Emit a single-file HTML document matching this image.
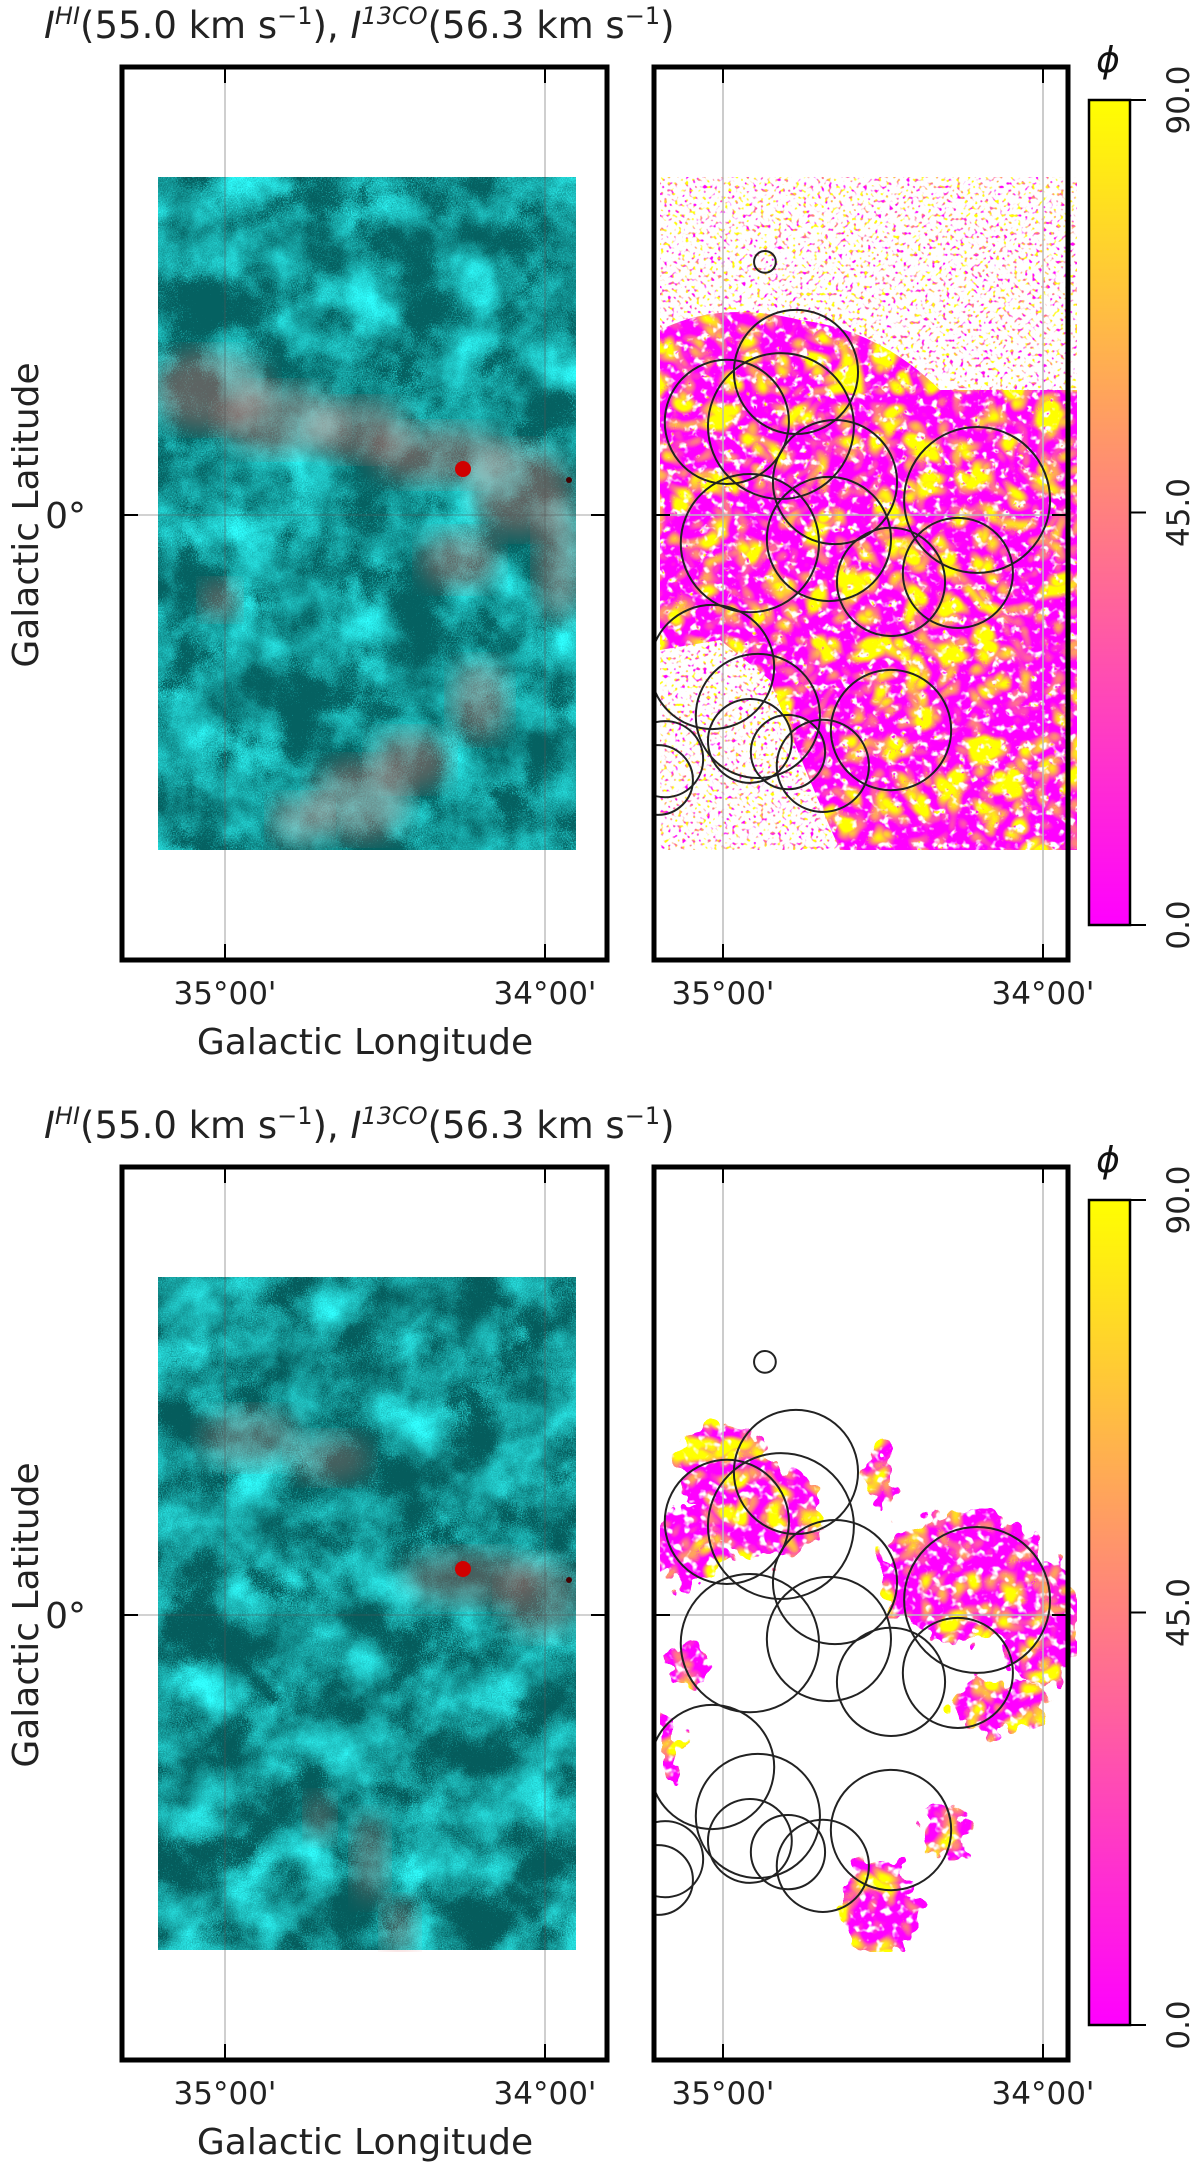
<!DOCTYPE html>
<html><head><meta charset="utf-8"><style>
html,body{margin:0;background:#fff;width:1200px;height:2178px;overflow:hidden;}
svg{display:block;font-family:"DejaVu Sans","Liberation Sans",sans-serif;overflow:hidden;}
</style></head><body>
<svg id="fig" width="1200" height="2178" viewBox="0 0 1200 2178" xmlns="http://www.w3.org/2000/svg">
<defs>
<filter id="cyanTex" x="0" y="0" width="1" height="1" color-interpolation-filters="sRGB">
<feTurbulence type="fractalNoise" baseFrequency="0.018" numOctaves="4" seed="3" result="n1"/>
<feTurbulence type="fractalNoise" baseFrequency="0.8" numOctaves="1" seed="9" result="n2"/>
<feComposite in="n1" in2="n2" operator="arithmetic" k2="1.0" k3="0.45" k4="-0.25" result="n"/>
<feColorMatrix in="n" type="matrix" values="0.25 0 0 0 0.02  0.95 0 0 0 0.38  0.95 0 0 0 0.38  0 0 0 0 1"/>
</filter>
<filter id="cyanTex2" x="0" y="0" width="1" height="1" color-interpolation-filters="sRGB">
<feTurbulence type="fractalNoise" baseFrequency="0.018" numOctaves="4" seed="11" result="n1"/>
<feTurbulence type="fractalNoise" baseFrequency="0.8" numOctaves="1" seed="4" result="n2"/>
<feComposite in="n1" in2="n2" operator="arithmetic" k2="1.0" k3="0.45" k4="-0.25" result="n"/>
<feColorMatrix in="n" type="matrix" values="0.25 0 0 0 0.02  0.95 0 0 0 0.36  0.95 0 0 0 0.36  0 0 0 0 1"/>
</filter>
<filter id="springDense" x="0" y="0" width="1" height="1" color-interpolation-filters="sRGB">
<feTurbulence type="turbulence" baseFrequency="0.03" numOctaves="2" seed="5" result="t"/>
<feTurbulence type="fractalNoise" baseFrequency="0.12" numOctaves="2" seed="7" result="a"/>
<feColorMatrix in="t" type="matrix" values="0 0 0 0 1  3 0 0 0 -0.5  -3 0 0 0 1.5  0 0 0 0 1" result="c"/>
<feColorMatrix in="a" type="matrix" values="0 0 0 0 0  0 0 0 0 0  0 0 0 0 0  6 0 0 0 -1.7" result="al"/>
<feComposite in="c" in2="al" operator="in"/>
</filter>
<filter id="springSparse" x="0" y="0" width="1" height="1" color-interpolation-filters="sRGB">
<feTurbulence type="fractalNoise" baseFrequency="0.28" numOctaves="1" seed="2" result="t"/>
<feColorMatrix in="t" type="matrix" values="0 0 0 0 1  4 0 0 0 -1.5  -4 0 0 0 2.5  0 7 0 0 -3.9"/>
</filter>
<filter id="blur8"><feGaussianBlur stdDeviation="12"/></filter>
<filter id="rough" x="-0.2" y="-0.2" width="1.4" height="1.4">
<feTurbulence type="fractalNoise" baseFrequency="0.06" numOctaves="2" seed="8" result="d"/>
<feDisplacementMap in="SourceGraphic" in2="d" scale="40" xChannelSelector="R" yChannelSelector="G"/>
</filter>
<linearGradient id="spring" x1="0" y1="1" x2="0" y2="0">
<stop offset="0" stop-color="#ff00ff"/><stop offset="1" stop-color="#ffff00"/>
</linearGradient>
<clipPath id="imgL0"><rect x="158" y="177" width="418" height="673"/></clipPath>
<clipPath id="imgL1"><rect x="158" y="1279" width="418" height="673"/></clipPath>
<clipPath id="denseTop"><path d="M660 330 Q720 300 800 320 Q880 330 940 390 L1077 390 L1077 850 L840 850 Q800 760 770 680 L720 640 L660 650 Z"/></clipPath>
<mask id="denseBot" maskUnits="userSpaceOnUse" x="650" y="1270" width="430" height="690">
<g fill="#fff" filter="url(#rough)">
<ellipse cx="725" cy="1470" rx="48" ry="48"/><ellipse cx="770" cy="1515" rx="55" ry="45"/><ellipse cx="690" cy="1545" rx="35" ry="40"/>
<ellipse cx="880" cy="1470" rx="14" ry="32"/><ellipse cx="965" cy="1575" rx="85" ry="65"/><ellipse cx="1040" cy="1620" rx="38" ry="65"/>
<ellipse cx="690" cy="1665" rx="20" ry="20"/><ellipse cx="1000" cy="1705" rx="50" ry="26"/><ellipse cx="880" cy="1905" rx="38" ry="50"/>
<ellipse cx="850" cy="1990" rx="14" ry="26"/><ellipse cx="945" cy="1830" rx="26" ry="26"/><ellipse cx="668" cy="1745" rx="13" ry="32"/>
</g>
</mask>
</defs>
</svg>
<script>
const NS='http://www.w3.org/2000/svg';
const svg=document.getElementById('fig');
// data
const lonTicks=[35,34];
const lonTickLabels=["35°00'","34°00'"];
const latTicks=[0];
const latTickLabels=["0°"];
const cbarTicks=[0,45,90];
const cbarTickLabels=["0.0","45.0","90.0"];
// circle centres (galactic lon/lat, deg, nominal map units) and radii (deg)
const circleLon=[34.869,34.772,34.819,34.988,34.650,34.206,34.916,34.669,34.475,34.266,35.034,34.891,34.475,35.181,34.916,34.797,34.688,35.203];
const circleLat=[0.791,0.447,0.278,0.291,0.103,0.047,-0.088,-0.075,-0.209,-0.181,-0.475,-0.628,-0.672,-0.763,-0.706,-0.741,-0.784,-0.828];
const circleRad=[0.034,0.194,0.228,0.194,0.194,0.228,0.216,0.194,0.169,0.172,0.194,0.194,0.188,0.119,0.131,0.116,0.144,0.109];
// axis functions
const panels=[{dy:0},{dy:1100}];
const L={x0:122}, R={x0:654};
const PX_PER_DEG=320;
function lonX(panel,lon){return (panel===L?225:723)+(35-lon)*PX_PER_DEG;}
function latY(off,lat){return 515+off-lat*PX_PER_DEG;}
function cbY(off,v){return 100+off+(90-v)/90*(925-100);}
function el(tag,attrs,parent){const e=document.createElementNS(NS,tag);for(const k in attrs)e.setAttribute(k,attrs[k]);(parent||svg).appendChild(e);return e;}
function txt(s,attrs,parent){const e=el('text',attrs,parent);e.textContent=s;return e;}

panels.forEach((p,pi)=>{
  const off=p.dy;
  const g=el('g',{});
  
  
  const t=el('text',{x:44,y:38+off,'font-size':37,fill:'#222'},g);
  
  
  t.innerHTML='<tspan font-style="italic">I</tspan><tspan font-size="24" dy="-14" font-style="italic">HI</tspan><tspan dy="14">(55.0 km s</tspan><tspan font-size="24" dy="-14">−1</tspan><tspan dy="14">), </tspan><tspan font-style="italic">I</tspan><tspan font-size="24" dy="-14" font-style="italic">13CO</tspan><tspan dy="14">(56.3 km s</tspan><tspan font-size="24" dy="-14">−1</tspan><tspan dy="14">)</tspan>';
  // LEFT panel
  const lg=el('g',{},g);
  
  
  const img=el('rect',{x:158,y:177+off,width:418,height:673,filter:pi===0?'url(#cyanTex)':'url(#cyanTex2)'},lg);
  
  
  const rg0=el('g',{'clip-path':`url(#imgL${pi})`},lg);
  const reds = pi===0 ? [[210,390,60,40],[280,420,60,35],[360,430,50,30],[440,455,70,30],[520,490,50,45],[560,560,25,60],[460,560,40,30],[480,700,30,40],[360,800,50,40],[410,760,40,30],[300,820,30,25],[220,600,20,20]] : [[250,1440,50,30],[330,1460,40,25],[470,1580,70,28],[540,1600,40,40],[370,1860,18,45],[400,1930,18,30],[320,1820,15,25]];
  reds.forEach(r=>{
    const e=el('ellipse',{cx:r[0],cy:r[1]+(pi===0?0:-2),rx:r[2],ry:r[3],fill:'#e06a66',opacity:pi===0?0.4:0.3,filter:'url(#blur8)'},rg0);
    
    
  });
  const src=el('circle',{cx:463,cy:469+off,r:8,fill:'#d00000'},lg);
  
  
  el('circle',{cx:569,cy:480+off,r:3,fill:'#400'},lg);
  lonTicks.forEach((v,i)=>{
    const x=lonX(L,v);
    const gl=el('line',{x1:x,x2:x,y1:67+off,y2:960+off,stroke:'#555','stroke-width':0.8,opacity:0.7},lg);
    
    
    el('line',{x1:x,x2:x,y1:67+off,y2:83+off,stroke:'#000','stroke-width':2},lg);
    el('line',{x1:x,x2:x,y1:944+off,y2:960+off,stroke:'#000','stroke-width':2},lg);
    const tl=txt(lonTickLabels[i],{x:x,y:1004+off,'font-size':31,'text-anchor':'middle',fill:'#222'},lg);
    
    
  });
  latTicks.forEach((v,i)=>{
    const y=latY(off,v);
    const gl=el('line',{x1:122,x2:607,y1:y,y2:y,stroke:'#555','stroke-width':0.8,opacity:0.7},lg);
    
    
    el('line',{x1:122,x2:138,y1:y,y2:y,stroke:'#000','stroke-width':2},lg);
    el('line',{x1:591,x2:607,y1:y,y2:y,stroke:'#000','stroke-width':2},lg);
    const tl=txt(latTickLabels[i],{x:86,y:y+13,'font-size':36,'text-anchor':'end',fill:'#222'},lg);
    
    
  });
  const fr=el('rect',{x:122,y:67+off,width:485,height:893,fill:'none',stroke:'#000','stroke-width':5},lg);
  
  
  const xl=txt('Galactic Longitude',{x:365,y:1054+off,'font-size':36,'text-anchor':'middle',fill:'#222'},lg);
  
  
  const yl=txt('Galactic Latitude',{x:0,y:0,'font-size':36,'text-anchor':'middle',fill:'#222',transform:`translate(38,${515+off}) rotate(-90)`},lg);
  
  

  // RIGHT panel
  const rg=el('g',{},g);
  
  
  if(pi===0){
    const sp=el('rect',{x:660,y:177,width:417,height:673,filter:'url(#springSparse)'},rg);
    
    
    const dg=el('g',{'clip-path':'url(#denseTop)'},rg);
    const dn=el('rect',{x:660,y:177,width:417,height:673,filter:'url(#springDense)'},dg);
    
    
  } else {
    const dg=el('g',{mask:'url(#denseBot)'},rg);
    const dn=el('rect',{x:660,y:1279,width:417,height:673,filter:'url(#springDense)'},dg);
    
    
  }
  lonTicks.forEach((v,i)=>{
    const x=lonX(R,v);
    const gl=el('line',{x1:x,x2:x,y1:67+off,y2:960+off,stroke:'#bbb','stroke-width':1.5},rg);
    
    
    el('line',{x1:x,x2:x,y1:67+off,y2:83+off,stroke:'#000','stroke-width':2},rg);
    el('line',{x1:x,x2:x,y1:944+off,y2:960+off,stroke:'#000','stroke-width':2},rg);
    const tl=txt(lonTickLabels[i],{x:x,y:1004+off,'font-size':31,'text-anchor':'middle',fill:'#222'},rg);
    
    
  });
  latTicks.forEach(v=>{
    const y=latY(off,v);
    const gl=el('line',{x1:654,x2:1068,y1:y,y2:y,stroke:'#bbb','stroke-width':1.5},rg);
    
    
    el('line',{x1:654,x2:670,y1:y,y2:y,stroke:'#000','stroke-width':2},rg);
    el('line',{x1:1052,x2:1068,y1:y,y2:y,stroke:'#000','stroke-width':2},rg);
  });
  const cclip=el('clipPath',{id:'cc'+pi},rg);
  el('rect',{x:656,y:69+off,width:410,height:889},cclip);
  const cg=el('g',{'clip-path':`url(#cc${pi})`},rg);
  
  
  circleLon.forEach((lon,i)=>{
    const c=el('circle',{cx:lonX(R,lon),cy:latY(off,circleLat[i]),r:circleRad[i]*PX_PER_DEG,fill:'none',stroke:'#222','stroke-width':2},cg);
    
    
  });
  const fr2=el('rect',{x:654,y:67+off,width:414,height:893,fill:'none',stroke:'#000','stroke-width':5},rg);
  
  

  // colorbar
  const cb=el('g',{},g);
  
  
  const bar=el('rect',{x:1089,y:cbY(off,90),width:41,height:cbY(off,0)-cbY(off,90),fill:'url(#spring)',stroke:'#000','stroke-width':2.5},cb);
  
  
  cbarTicks.forEach((v,i)=>{
    const y=cbY(off,v);
    el('line',{x1:1130,x2:1146,y1:y,y2:y,stroke:'#000','stroke-width':2},cb);
    const tl=txt(cbarTickLabels[i],{x:0,y:0,'font-size':31,'text-anchor':'middle',fill:'#222',transform:`translate(1189,${y}) rotate(-90)`},cb);
    
    
  });
  const ph=txt('ϕ',{x:1108,y:72+off,'font-size':36,'font-style':'italic','text-anchor':'middle',fill:'#111'},cb);
  
  
});
</script>
</body></html>
